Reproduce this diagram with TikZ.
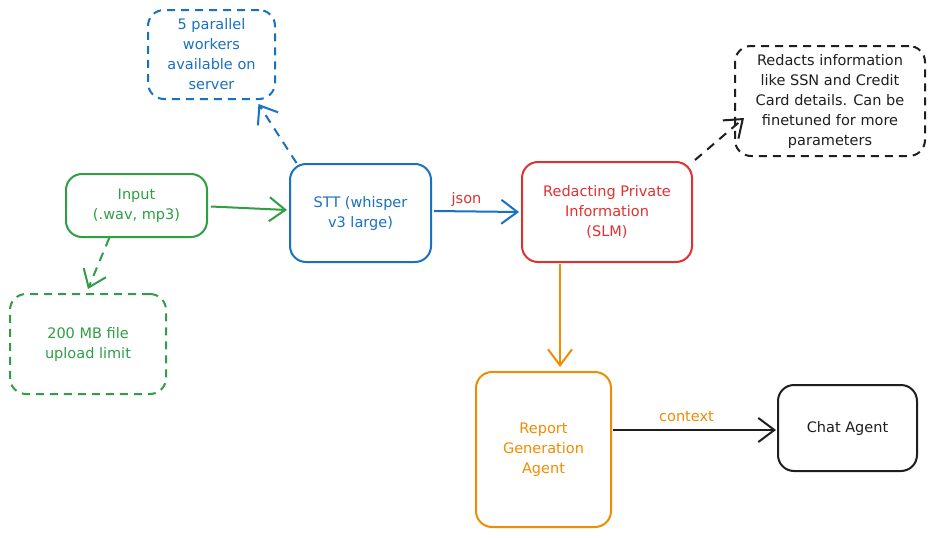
\documentclass[tikz,border=0pt]{standalone}
\usepackage{fontspec}
\setmainfont{DejaVu Sans}
\usetikzlibrary{arrows.meta,calc}
\definecolor{cgreen}{HTML}{2F9E44}
\definecolor{cblue}{HTML}{1971C2}
\definecolor{cred}{HTML}{E03131}
\definecolor{corange}{HTML}{F08C00}
\definecolor{cblack}{HTML}{1E1E1E}
\tikzset{
  box/.style={draw, rounded corners=16pt, line width=2pt, align=center,
    inner sep=0pt, font=\fontsize{14.5}{20}\selectfont},
  dbox/.style={box, dash pattern=on 8pt off 6pt},
  arr/.style={line width=2pt, -{Straight Barb[length=16pt,width=24pt,line width=2pt]}},
  darr/.style={arr, dash pattern=on 9pt off 7pt},
  lbl/.style={font=\fontsize{14.5}{16}\selectfont, inner sep=1pt}
}
\begin{document}
\begin{tikzpicture}[x=1pt,y=-1pt]
\useasboundingbox (0,0) rectangle (937,538);
\fill[white] (0,0) rectangle (937,538);
% nodes
\node[dbox, cblue, minimum width=127pt, minimum height=89pt] (note1) at (211.5,54.5)
  {5 parallel\\workers\\available on\\server};
\node[box, cgreen, minimum width=141pt, minimum height=63pt] (in) at (136.5,205.5)
  {Input\\(.wav, mp3)};
\node[box, cblue, minimum width=141pt, minimum height=98pt] (stt) at (360.5,213)
  {STT (whisper\\v3 large)};
\node[box, cred, minimum width=170pt, minimum height=100pt] (red) at (607,212)
  {Redacting Private\\Information\\(SLM)};
\node[dbox, cblack, minimum width=190pt, minimum height=110pt] (note2) at (830,101)
  {Redacts information\\like SSN and Credit\\Card details. Can be\\finetuned for more\\parameters};
\node[dbox, cgreen, minimum width=156pt, minimum height=100pt] (note3) at (88,344)
  {200 MB file\\upload limit};
\node[box, corange, minimum width=135pt, minimum height=155pt] (rep) at (543.5,449.5)
  {Report\\Generation\\Agent};
\node[box, cblack, minimum width=139pt, minimum height=86pt] (chat) at (847.5,428)
  {Chat Agent};
% connectors
\draw[arr, cgreen] ($(in.east)+(3,1)$) -- ($(stt.west)+(-2,-3)$);
\draw[darr, cgreen] (in.-130) -- ($(note3.north)+(0,-4)$);
\draw[darr, cblue] (stt.142) -- ($(note1.-46)+(3,4)$);
\draw[arr, cblue] ($(stt.east)+(2,-2)$) -- node[lbl, cred, above=3pt, xshift=-10pt] {json} ($(red.west)+(-2,0)$);
\draw[darr, cblack] ($(red.north east)+(2,-1)$) -- ($(note2.west)+(10,17)$);
\draw[arr, corange] ($(red.south)+(-47,1)$) -- ($(rep.north)+(16.5,-4)$);
\draw[arr, cblack] ($(rep.east |- chat.west)+(1,2)$) -- node[lbl, corange, above=6pt, xshift=-8pt] {context} ($(chat.west)+(-1,2)$);
\end{tikzpicture}
\end{document}
